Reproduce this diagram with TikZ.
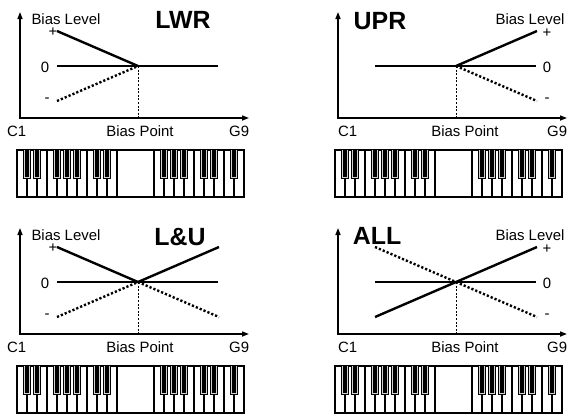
\documentclass[tikz,border=0pt]{standalone}
\usepackage{fontspec}
\setmainfont{Liberation Sans}
\usetikzlibrary{arrows.meta}

% one chart frame: axes, zero line, bias point and keyboard
\newcommand{\biasframe}[1]{%
  \coordinate (#1-o) at (20,118);
  \coordinate (#1-y) at (20,12);
  \coordinate (#1-x) at (249,118);
  \coordinate (#1-bp) at (138,66);
  \coordinate (#1-foot) at (138,118);
  \coordinate (#1-z0) at (57,66);
  \coordinate (#1-z1) at (218,66);
  \coordinate (#1-lp) at (57,31);
  \coordinate (#1-lm) at (57,101);
  \coordinate (#1-rp) at (219,31);
  \coordinate (#1-rm) at (219,101);
  \draw[axisline,{Triangle[length=7bp,width=5bp]}-{Triangle[length=7bp,width=5bp]}] (#1-y) -- (#1-o) -- (#1-x);
  \draw[zeroline] (#1-z0) -- (#1-z1);
  \draw[pointline] (#1-bp) -- (#1-foot);
  % keyboard
  \foreach \k in {17,27,...,117} \draw[keyline] (\k,150) -- (\k,197);
  \foreach \k in {154,164,...,244} \draw[keyline] (\k,150) -- (\k,197);
  \draw[keyline] (17,150) rectangle (244,197);
  \foreach \k in {27,37,57,67,77,97,107,164,174,184,204,214,234} {
    \fill (\k-3.7,150) rectangle (\k+3.7,179);
    \draw[gray!35,line width=0.7bp] (\k-2.4,150) -- (\k-2.4,177.6) -- (\k+2.4,177.6) -- (\k+2.4,150);
  }}

\begin{document}
\begin{tikzpicture}[x=1bp, y=-1bp,
  txt/.style={inner sep=0pt, font=\fontsize{15}{17}\selectfont},
  title/.style={inner sep=0pt, font=\fontsize{25}{28}\selectfont\bfseries},
  axisline/.style={line width=1.5bp},
  zeroline/.style={line width=1.2bp},
  pointline/.style={line width=0.9bp, dash pattern=on 2bp off 1.6bp},
  level/.style={line width=2.4bp},
  leveldots/.style={line width=2.4bp, dash pattern=on 2.2bp off 2bp},
  keyline/.style={line width=1.1bp}]
  \useasboundingbox (0,0) rectangle (569,415);

  % LWR
  \begin{scope}
    \biasframe{lwr}
    \node[txt] (lwr-level) at (66,19) {Bias Level};
    \node[title] (lwr-name) at (183,20) {LWR};
    \node[txt] (lwr-plus) at (53,32) {+};
    \node[txt] (lwr-zero) at (45,67) {0};
    \node[txt] (lwr-minus) at (47,100) {-};
    \node[txt,anchor=west] (lwr-c1) at (7,131) {C1};
    \node[txt] (lwr-point) at (140,131) {Bias Point};
    \node[txt,anchor=west] (lwr-g9) at (229,131) {G9};
    \draw[leveldots] (lwr-lm) -- (lwr-bp);
    \draw[level] (lwr-lp) -- (lwr-bp);
  \end{scope}

  % UPR
  \begin{scope}[shift={(318,0)}]
    \biasframe{upr}
    \node[txt] (upr-level) at (212,19) {Bias Level};
    \node[title] (upr-name) at (62,21) {UPR};
    \node[txt] (upr-plus) at (229,33) {+};
    \node[txt] (upr-zero) at (229,67) {0};
    \node[txt] (upr-minus) at (229,100) {-};
    \node[txt,anchor=west] (upr-c1) at (20,131) {C1};
    \node[txt] (upr-point) at (147,131) {Bias Point};
    \node[txt,anchor=west] (upr-g9) at (229,131) {G9};
    \draw[leveldots] (upr-bp) -- (upr-rm);
    \draw[level] (upr-bp) -- (upr-rp);
  \end{scope}

  % L&U
  \begin{scope}[shift={(0,216)}]
    \biasframe{lu}
    \node[txt] (lu-level) at (66,19) {Bias Level};
    \node[title] (lu-name) at (180,21) {L\&U};
    \node[txt] (lu-plus) at (53,32) {+};
    \node[txt] (lu-zero) at (45,67) {0};
    \node[txt] (lu-minus) at (47,100) {-};
    \node[txt,anchor=west] (lu-c1) at (7,131) {C1};
    \node[txt] (lu-point) at (140,131) {Bias Point};
    \node[txt,anchor=west] (lu-g9) at (229,131) {G9};
    \draw[leveldots] (lu-lm) -- (lu-bp) -- (lu-rm);
    \draw[level] (lu-lp) -- (lu-bp) -- (lu-rp);
  \end{scope}

  % ALL
  \begin{scope}[shift={(318,216)}]
    \biasframe{all}
    \node[txt] (all-level) at (212,19) {Bias Level};
    \node[title] (all-name) at (59,20) {ALL};
    \node[txt] (all-plus) at (229,33) {+};
    \node[txt] (all-zero) at (229,67) {0};
    \node[txt] (all-minus) at (229,100) {-};
    \node[txt,anchor=west] (all-c1) at (20,131) {C1};
    \node[txt] (all-point) at (147,131) {Bias Point};
    \node[txt,anchor=west] (all-g9) at (229,131) {G9};
    \draw[leveldots] (all-lp) -- (all-rm);
    \draw[level] (all-lm) -- (all-rp);
  \end{scope}
\end{tikzpicture}
\end{document}
